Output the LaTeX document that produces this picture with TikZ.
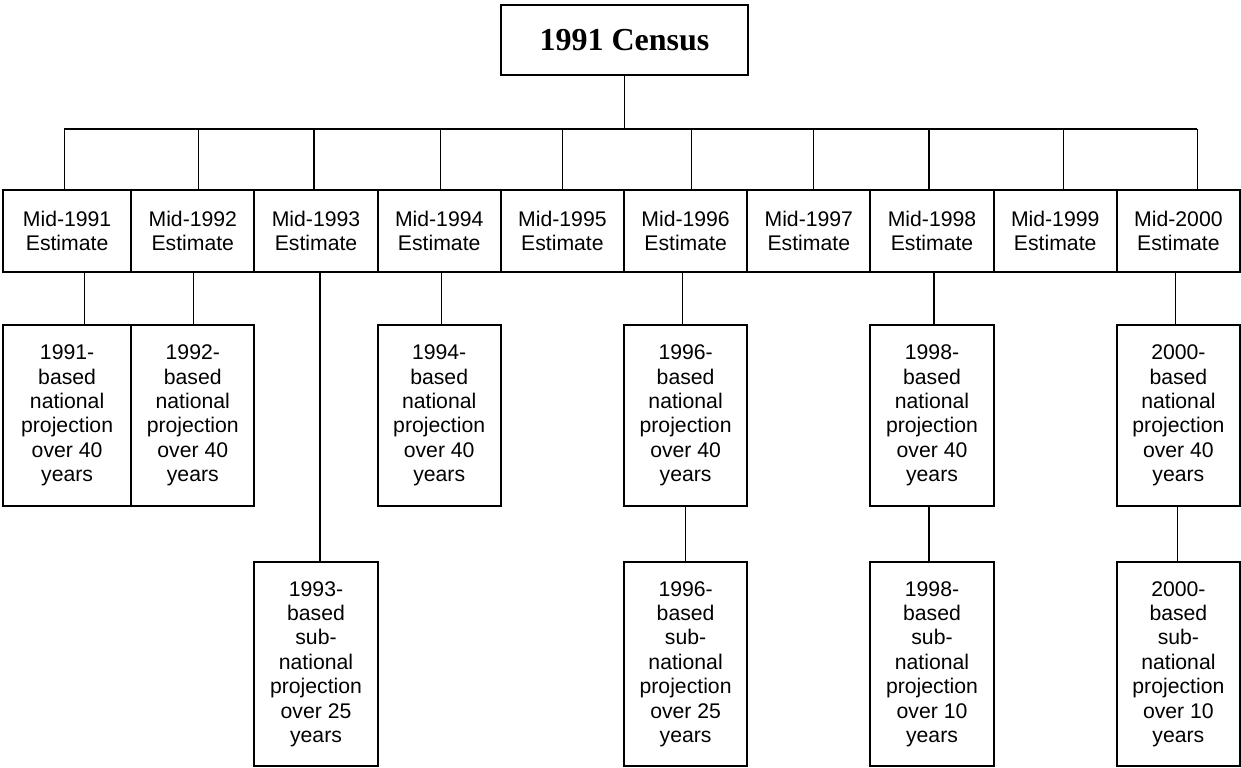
\documentclass[tikz,border=0pt]{standalone}
\usepackage{fontspec}
\setmainfont{Liberation Sans}
\newfontfamily\titlefont{Liberation Serif}
\usetikzlibrary{positioning,calc}

\tikzset{
  box/.style={draw, line width=1pt, inner sep=0pt, outer sep=0pt, align=center,
    font=\fontsize{10.6}{12.2}\selectfont},
  estbox/.style={box, minimum width=61.6pt, minimum height=41pt},
  projbox/.style={box, minimum width=61.6pt, minimum height=90.5pt},
  subbox/.style={box, minimum width=61.6pt, minimum height=102pt},
  firstcol/.style={minimum width=64.1pt},
  link/.style={line width=0.6pt},
}

\begin{document}
\begin{tikzpicture}[x=0.5pt, y=0.5pt]
\useasboundingbox (0,0) rectangle (1241,-767);

% census at the top
\node[box, font=\titlefont\bfseries\fontsize{16}{19}\selectfont,
  minimum width=123.5pt, minimum height=35pt] (census) at (624.5,-40) {1991 Census};

% estimate row
\node[estbox, firstcol] (m1) at (67.1,-231) {Mid-1991\\Estimate};
\foreach \yr [count=\i from 2] in {1992,...,2000}
  \node[estbox] (m\i) at ({8+123.2*(\i-0.5)},-231) {Mid-\yr\\Estimate};

% national projections
\node[projbox, firstcol] (p1) at (67.1,-415.5) {1991-\\based\\national\\projection\\over 40\\years};
\foreach \i/\yr in {2/1992,4/1994,6/1996,8/1998,10/2000}
  \node[projbox] (p\i) at ({8+123.2*(\i-0.5)},-415.5)
    {\yr-\\based\\national\\projection\\over 40\\years};

% sub-national projections
\foreach \i/\yr/\len in {3/1993/25,6/1996/25,8/1998/10,10/2000/10}
  \node[subbox] (s\i) at ({8+123.2*(\i-0.5)},-664)
    {\yr-\\based\\sub-\\national\\projection\\over \len\\years};

% bus from the census
\coordinate (busL) at (64,-129);
\coordinate (busR) at (1197,-129);
\draw[link] (busL) -- (busR);
\draw[link] (census.south) -- (census.south |- busL);
\foreach \i/\dx in {1/-3,2/6,3/-2,4/1,5/0,6/6,7/5,8/-3,9/8,10/19}{
  \path ($(m\i.north)+(\dx,0)$) coordinate (d\i);
  \draw[link] (d\i) -- (d\i |- busL);
}

% estimates to projections
\foreach \i/\dx in {1/17,2/1,4/2,6/-3,8/2,10/-3}
  \draw[link] ($(m\i.south)+(\dx,0)$) -- ($(p\i.north)+(\dx,0)$);
\draw[link] ($(m3.south)+(4,0)$) -- ($(s3.north)+(4,0)$);
\foreach \i/\dx in {6/0,8/-3,10/-1}
  \draw[link] ($(p\i.south)+(\dx,0)$) -- ($(s\i.north)+(\dx,0)$);
\end{tikzpicture}
\end{document}
